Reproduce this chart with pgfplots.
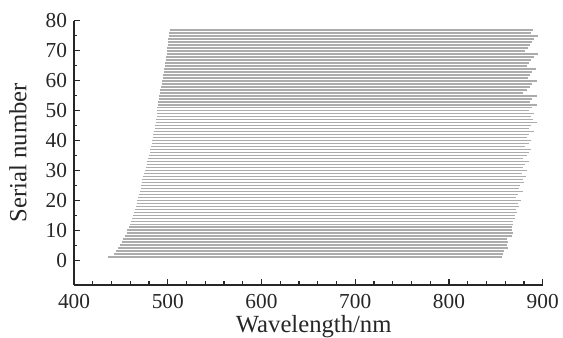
\documentclass[border=0pt]{standalone}
\usepackage{pgfplots}
\pgfplotsset{compat=1.18}
\usepackage{pgfplotstable}
\usepackage{fontspec}
\setmainfont{Liberation Serif}
\usetikzlibrary{calc}
\definecolor{lgray}{RGB}{172,172,172}
\pgfplotstableread{
s a b
1 436 857
2 443 858
3 445 859
4 447 863
5 449 862
6 451 863
7 452 862
8 454 867
9 456 868
10 457 867
11 459 867
12 460 868
13 461 868
14 462 870
15 463 870
16 464 873
17 465 871
18 466 875
19 467 874
20 467 877
21 468 871
22 469 874
23 470 879
24 471 875
25 471 876
26 472 880
27 473 879
28 474 882
29 475 878
30 476 883
31 477 879
32 478 881
33 478 885
34 479 879
35 480 883
36 481 885
37 481 888
38 482 881
39 483 885
40 483 888
41 484 883
42 484 885
43 485 891
44 486 885
45 486 888
46 487 894
47 487 890
48 488 887
49 488 891
50 489 885
51 489 889
52 490 894
53 490 886
54 491 889
55 491 894
56 492 879
57 492 883
58 493 886
59 494 889
60 494 894
61 495 884
62 495 886
63 496 889
64 496 893
65 497 883
66 497 885
67 498 888
68 498 891
69 499 895
70 499 881
71 499 884
72 500 886
73 500 889
74 500 891
75 501 895
76 501 887
77 502 890
}\data
\begin{document}
\begin{tikzpicture}
\begin{axis}[
  scale only axis,
  width=351.5pt, height=198.2pt,
  xmin=400, xmax=900, ymin=-8.2, ymax=80,
  axis lines*=left,
  axis line style={line width=0.9pt, black!85},
  tick align=inside, tick pos=left,
  xtick={400,500,...,900}, ytick={0,10,...,80},
  minor x tick num=4, minor y tick num=1,
  major tick length=4.5pt, minor tick length=2.6pt,
  every tick/.style={line width=0.8pt, black!85},
  /pgf/number format/assume math mode=true,
  tick label style={font=\fontsize{16}{18}\selectfont, inner sep=0pt, black!85},
  xticklabel style={yshift=-6.5pt},
  yticklabel style={xshift=-5pt},
  xlabel={Wavelength/nm}, ylabel={Serial number},
  every axis x label/.style={at={(rel axis cs:0.5,0)}, anchor=base, yshift=-36pt, xshift=4pt, font=\fontsize{18.5}{20}\selectfont, black!85},
  every axis y label/.style={at={(rel axis cs:0,0.5)}, xshift=-42pt, rotate=90, anchor=center, font=\fontsize{18.5}{20}\selectfont, black!85},
  clip=false,
]
\addplot[draw=none, no markers,
  error bars/.cd, x dir=plus, x explicit, error mark=none,
  error bar style={draw=lgray, line width=1.4pt}]
  table[x=a, y=s, x error expr=\thisrow{b}-\thisrow{a}] {\data};
\coordinate (sw) at (rel axis cs:0,0);
\coordinate (ne) at (rel axis cs:1,1);
\end{axis}
\pgfresetboundingbox
\useasboundingbox ($(sw)+(-55.5pt,-39.75pt)$) rectangle ($(ne)+(15.2pt,15.5pt)$);
\end{tikzpicture}
\end{document}
